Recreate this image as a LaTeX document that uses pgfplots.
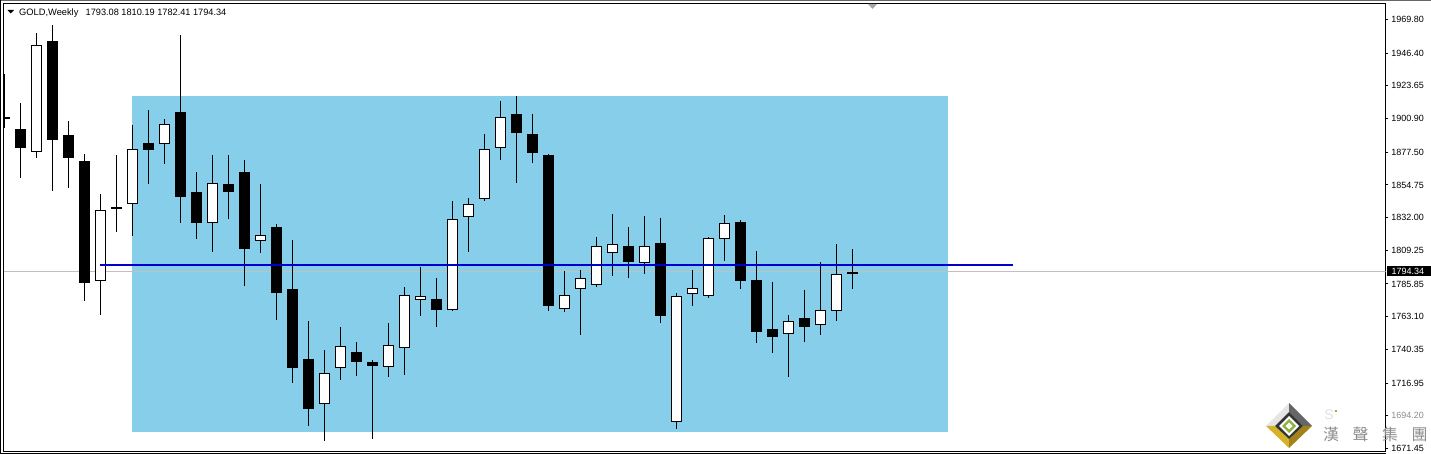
\documentclass[border=0pt]{standalone}
\usepackage{fontspec}
\setmainfont{Liberation Sans}
\newfontfamily\cjk{Noto Sans CJK TC}
\usepackage{pgfplots}
\usepackage{pgfplotstable}
\pgfplotsset{compat=1.18}
\definecolor{skyb}{RGB}{135,206,235}
\definecolor{lineblue}{RGB}{0,0,205}
\definecolor{pricegray}{RGB}{192,192,192}
\definecolor{goldA}{RGB}{214,178,40}
\definecolor{goldB}{RGB}{165,130,25}
\definecolor{leaf}{RGB}{141,179,58}

% i high top bottom low
\pgfplotstableread{
i h t b l
1 1911.72 1893.43 1880.63 1859.77
3 1965.97 1954.64 1886.20 1850.73
4 1899.20 1889.47 1873.68 1852.81
5 1876.25 1871.38 1786.74 1774.01
7 1875.56 1839.18 1838.21 1822.21
9 1906.85 1883.90 1879.24 1855.60
11 1959.02 1905.46 1846.56 1828.47
12 1863.73 1849.82 1828.47 1817.34
14 1875.56 1855.39 1850.03 1831.25
15 1872.08 1863.73 1810.39 1784.66
17 1827.57 1825.48 1779.79 1760.80
18 1816.44 1782.36 1727.62 1717.19
19 1760.10 1733.68 1699.11 1687.29
22 1745.50 1738.54 1731.80 1722.06
23 1732.98 1731.59 1728.81 1678.24
27 1790.01 1775.20 1767.96 1756.14
32 1916.59 1904.07 1891.07 1856.29
33 1904.07 1890.16 1877.16 1870.20
34 1876.25 1875.56 1770.75 1767.27
39 1825.48 1812.27 1801.14 1790.22
41 1831.74 1814.35 1763.58 1758.71
46 1830.35 1828.96 1787.92 1782.57
47 1808.79 1788.62 1752.45 1745.01
48 1787.23 1754.54 1748.98 1738.06
50 1781.66 1762.19 1755.93 1745.71
}\blackcandles

\pgfplotstableread{
i h t b l
0 1931.89 1902.33 1900.94 1894.54
2 1960.41 1951.85 1877.44 1873.68
6 1848.43 1837.10 1788.13 1764.49
8 1896.42 1879.52 1841.27 1819.43
10 1900.60 1896.91 1883.00 1869.51
13 1875.56 1855.87 1828.05 1808.30
16 1855.39 1819.71 1815.95 1807.61
20 1739.93 1723.73 1702.59 1676.85
21 1755.93 1742.51 1727.62 1719.28
24 1758.71 1743.20 1728.32 1721.36
25 1783.75 1777.98 1741.53 1722.55
26 1797.66 1777.28 1774.92 1763.79
28 1843.56 1830.84 1767.96 1767.27
29 1845.65 1841.27 1832.64 1808.30
30 1890.16 1879.52 1845.16 1843.77
31 1913.11 1901.78 1880.63 1872.29
35 1794.88 1777.98 1768.66 1766.57
36 1795.36 1789.80 1782.57 1750.58
37 1818.53 1812.06 1785.35 1783.96
38 1834.52 1813.45 1807.61 1791.61
40 1833.13 1812.06 1800.65 1793.00
42 1779.37 1777.28 1689.65 1685.20
43 1795.57 1782.85 1779.09 1770.75
44 1818.53 1817.62 1777.70 1776.31
45 1833.83 1828.05 1817.34 1802.04
49 1764.28 1759.90 1751.27 1721.36
51 1801.14 1767.55 1757.53 1750.58
52 1813.66 1792.58 1767.27 1760.31
53 1810.19 1794.34 1793.08 1782.41
}\whitecandles

\begin{document}
\begin{tikzpicture}
\useasboundingbox (0,0) rectangle (1431pt,454pt);
% window frame behind the axis
\begin{scope}[x=1pt,y=-1pt,shift={(0,454pt)}]
\fill[black!60] (0,0) rectangle (1431,1);
\fill[black] (0,0) rectangle (1,454);
\fill[black] (0,453) rectangle (1386,454);
\end{scope}
\begin{axis}[
  at={(3.5pt,2.5pt)},anchor=south west,
  scale only axis,width=1382pt,height=448pt,
  xmin=-0.0625,xmax=86.3125,
  ymin=1669.34,ymax=1980.93,
  axis line style={line width=1pt,black},
  xtick=\empty,
  ytick pos=right,yticklabel pos=right,
  ytick align=outside,
  major tick length=2.5pt,
  tick style={line width=1pt,black},
  ytick={1969.80,1946.40,1923.65,1900.90,1877.50,1854.75,1832.00,1809.25,1785.85,1763.10,1740.35,1716.95,1694.20,1671.45},
  yticklabels={1969.80,1946.40,1923.65,1900.90,1877.50,1854.75,1832.00,1809.25,1785.85,1763.10,1740.35,1716.95,\textcolor{black!45}{1694.20},1671.45},
  yticklabel style={font=\fontsize{9pt}{10pt}\selectfont,anchor=west,inner xsep=0pt,xshift=3pt},
  every axis plot/.append style={forget plot},
]
% rectangle object
\addplot[fill=skyb,draw=none] coordinates {(7.96875,1682.91)(58.96875,1682.91)(58.96875,1916.59)(7.96875,1916.59)} --cycle;
% bid line
\addplot[pricegray,line width=1pt] coordinates {(-0.0625,1794.34)(86.3125,1794.34)};
% black candles: wick then body
\addplot[draw=none,mark=none,error bars/.cd,y dir=both,y explicit,error mark=none,error bar style={line width=1pt,black}]
  table[x=i,y=t,y error plus expr=\thisrow{h}-\thisrow{t},y error minus expr=\thisrow{t}-\thisrow{l}]{\blackcandles};
\addplot[draw=none,mark=none,error bars/.cd,y dir=minus,y explicit,error mark=none,error bar style={line width=11pt,black}]
  table[x=i,y=t,y error minus expr=\thisrow{t}-\thisrow{b}]{\blackcandles};
% white candles
\addplot[draw=none,mark=none,error bars/.cd,y dir=both,y explicit,error mark=none,error bar style={line width=1pt,black}]
  table[x=i,y=t,y error plus expr=\thisrow{h}-\thisrow{t},y error minus expr=\thisrow{t}-\thisrow{l}]{\whitecandles};
\addplot[draw=none,mark=none,error bars/.cd,y dir=minus,y explicit,error mark=none,error bar style={line width=11pt,black}]
  table[x=i,y=t,y error minus expr=\thisrow{t}-\thisrow{b}]{\whitecandles};
\addplot[draw=none,mark=none,error bars/.cd,y dir=minus,y explicit,error mark=none,error bar style={line width=9pt,white}]
  table[x=i,y expr=\thisrow{t}-0.8,y error minus expr={max(\thisrow{t}-\thisrow{b}-1.6,0)}]{\whitecandles};
% horizontal line object
\addplot[lineblue,line width=2.2pt] coordinates {(5.96875,1799.06)(63.03125,1799.06)};
\end{axis}
\begin{scope}[x=1pt,y=-1pt,shift={(0,454pt)}]
% current price tag
\fill[black] (1387,266.5) rectangle (1431,276.5);
\node[anchor=west,inner sep=0pt,text=white,font=\fontsize{9pt}{10pt}\selectfont] at (1391.3,271.5) {1794.34};
% header
\fill[black] (7.5,10) -- (14,10) -- (10.7,13.5) -- cycle;
\node[anchor=base west,inner sep=0pt,font=\fontsize{9.3pt}{10pt}\selectfont] at (19,15.5) {GOLD,Weekly};
\node[anchor=base west,inner sep=0pt,font=\fontsize{9.2pt}{10pt}\selectfont] at (85.5,15.5) {1793.08 1810.19 1782.41 1794.34};
% grey shift marker
\fill[black!35] (868,4) -- (877,4) -- (872.5,9) -- cycle;
% watermark
\fill[black!10] (1266,426) -- (1289,403) -- (1289,412) -- (1275,426) -- cycle;
\fill[black!60] (1289,403) -- (1312,426) -- (1303,426) -- (1289,412) -- cycle;
\fill[goldA] (1266,426) -- (1289,448) -- (1289,439) -- (1275,426) -- cycle;
\fill[goldB] (1312,426) -- (1289,448) -- (1289,439) -- (1303,426) -- cycle;
\fill[black!80] (1275,426) -- (1289,412) -- (1303,426) -- (1289,439) -- cycle;
\fill[white] (1279,426) -- (1289,416) -- (1299,426) -- (1289,436) -- cycle;
\fill[leaf] (1282,426) -- (1289,419) -- (1296,426) -- (1289,433) -- cycle;
\fill[white] (1285.5,426) -- (1289,422.5) -- (1292.5,426) -- (1289,429.5) -- cycle;
\node[inner sep=0pt,text=black!12,font=\fontsize{14pt}{14pt}\selectfont] at (1329,415) {S};
\fill[leaf] (1335,410) rectangle (1337,412);
\foreach \x/\c in {1331/漢,1360.5/聲,1390/集,1419.5/團}
  \node[inner sep=0pt,text=black!45,font=\cjk\fontsize{16pt}{16pt}\selectfont] at (\x,434.5) {\c};
\end{scope}
\end{tikzpicture}
\end{document}
